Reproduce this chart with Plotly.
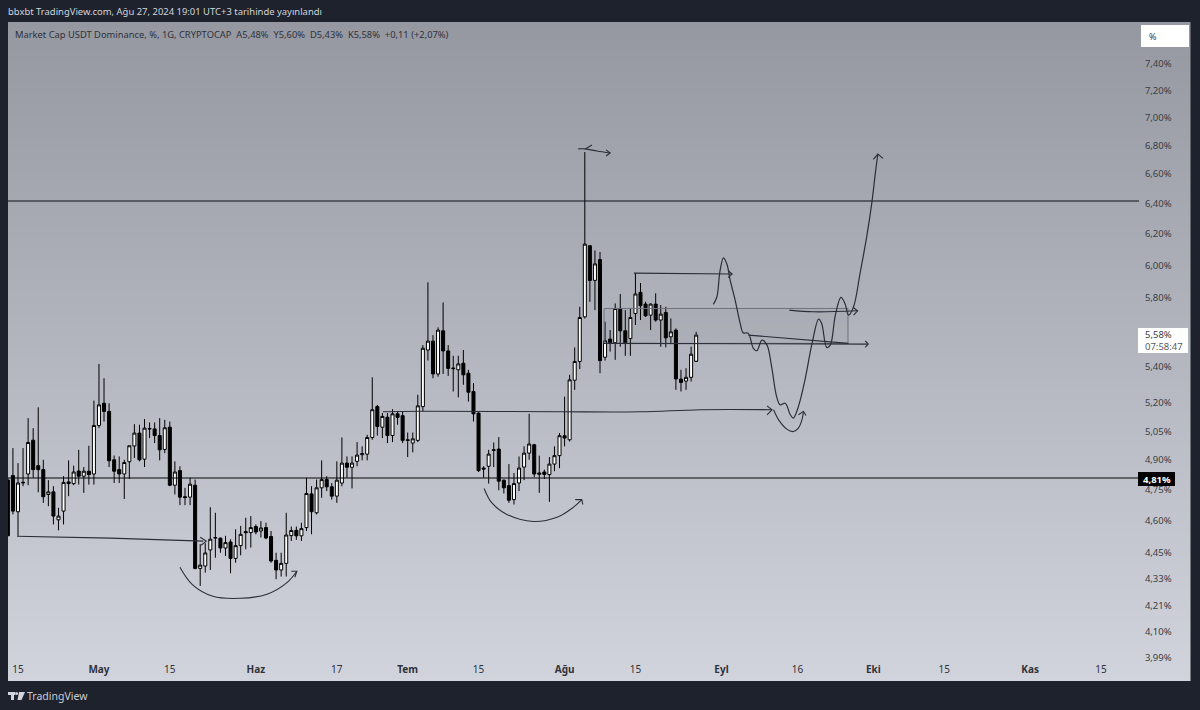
import pandas as pd
import plotly.graph_objs as go

W, H = 1200, 710
FRAME = "#1e222d"
INK = "#2a2e39"
FONT = "Noto Sans"

# daily candles, first one is cut by the left edge of the pane
first_day = "2024-04-13"
opens = [4.800, 4.822, 4.644, 4.785, 4.830, 5.003, 4.872, 4.852, 4.728, 4.741,
         4.605, 4.647, 4.790, 4.782, 4.845, 4.819, 4.844, 4.830, 5.080, 5.199,
         5.155, 4.902, 4.852, 4.830, 4.892, 4.973, 5.040, 4.905, 5.061, 5.062,
         5.027, 4.955, 5.071, 4.774, 4.847, 4.717, 4.715, 4.774, 4.378, 4.389,
         4.463, 4.518, 4.518, 4.472, 4.500, 4.424, 4.483, 4.549, 4.544, 4.573,
         4.552, 4.568, 4.526, 4.415, 4.371, 4.401, 4.530, 4.555, 4.529, 4.568,
         4.731, 4.639, 4.761, 4.802, 4.766, 4.720, 4.785, 4.885, 4.864, 4.894,
         4.928, 4.931, 5.017, 5.181, 5.071, 5.124, 5.027, 5.142, 5.132, 5.005,
         4.988, 5.002, 5.181, 5.495, 5.546, 5.360, 5.606, 5.490, 5.389, 5.383,
         5.420, 5.364, 5.263, 5.146, 4.860, 4.869, 4.950, 4.957, 4.799, 4.772,
         4.703, 4.785, 4.865, 4.936, 4.979, 4.828, 4.840, 4.827, 4.880, 4.923,
         5.026, 5.005, 5.325, 5.430, 5.688, 6.125, 5.908, 6.037, 5.454, 5.558,
         5.537, 5.738, 5.606, 5.561, 5.708, 5.835, 5.764, 5.698, 5.764, 5.669,
         5.714, 5.571, 5.610, 5.331, 5.320, 5.341, 5.430]
highs = [4.811, 4.962, 4.885, 4.962, 5.119, 5.066, 5.177, 4.902, 4.799, 4.769,
         4.663, 4.819, 4.899, 4.872, 4.953, 4.865, 4.974, 5.213, 5.416, 5.336,
         5.199, 4.924, 4.919, 4.902, 4.974, 5.087, 5.084, 5.114, 5.096, 5.096,
         5.119, 5.110, 5.101, 4.894, 4.869, 4.761, 4.811, 4.802, 4.490, 4.494,
         4.666, 4.639, 4.521, 4.529, 4.513, 4.560, 4.576, 4.615, 4.623, 4.583,
         4.599, 4.591, 4.552, 4.450, 4.450, 4.639, 4.573, 4.573, 4.591, 4.811,
         4.769, 4.802, 4.899, 4.819, 4.785, 4.894, 5.017, 4.919, 4.919, 4.993,
         4.971, 5.031, 5.341, 5.190, 5.146, 5.146, 5.167, 5.155, 5.155, 5.043,
         5.043, 5.245, 5.523, 5.896, 5.581, 5.626, 5.774, 5.523, 5.462, 5.462,
         5.495, 5.383, 5.309, 5.150, 4.869, 4.953, 4.991, 5.019, 4.802, 4.880,
         4.835, 4.919, 4.971, 5.142, 4.984, 4.923, 4.852, 4.916, 4.971, 5.040,
         5.235, 5.355, 5.510, 5.748, 6.752, 6.125, 6.095, 6.085, 5.659, 5.610,
         5.768, 5.825, 5.728, 5.738, 5.954, 5.892, 5.778, 5.768, 5.829, 5.758,
         5.748, 5.678, 5.620, 5.383, 5.392, 5.514, 5.600]
lows = [4.529, 4.631, 4.529, 4.769, 4.774, 4.811, 4.739, 4.687, 4.671, 4.583,
        4.555, 4.583, 4.720, 4.774, 4.777, 4.736, 4.777, 4.777, 5.066, 5.101,
        4.865, 4.785, 4.785, 4.706, 4.805, 4.911, 4.894, 4.865, 5.014, 4.988,
        4.899, 4.936, 4.769, 4.728, 4.676, 4.676, 4.676, 4.374, 4.299, 4.359,
        4.371, 4.427, 4.450, 4.435, 4.356, 4.404, 4.438, 4.466, 4.474, 4.536,
        4.521, 4.513, 4.404, 4.329, 4.341, 4.341, 4.505, 4.510, 4.505, 4.552,
        4.536, 4.631, 4.712, 4.745, 4.703, 4.687, 4.769, 4.811, 4.758, 4.869,
        4.899, 4.899, 5.005, 5.027, 5.014, 4.988, 4.993, 5.084, 4.988, 4.916,
        4.940, 4.993, 5.155, 5.435, 5.336, 5.345, 5.360, 5.349, 5.263, 5.231,
        5.300, 5.208, 5.101, 4.840, 4.811, 4.782, 4.865, 4.749, 4.733, 4.687,
        4.679, 4.745, 4.799, 4.902, 4.814, 4.736, 4.805, 4.692, 4.844, 4.859,
        4.971, 4.996, 5.272, 5.387, 5.678, 5.778, 5.728, 5.364, 5.435, 5.486,
        5.439, 5.514, 5.462, 5.462, 5.640, 5.669, 5.688, 5.610, 5.659, 5.514,
        5.510, 5.529, 5.272, 5.263, 5.272, 5.318, 5.435]
closes = [4.529, 4.647, 4.785, 4.788, 4.991, 4.852, 4.852, 4.717, 4.741, 4.623,
          4.623, 4.788, 4.782, 4.840, 4.819, 4.844, 4.827, 5.080, 5.190, 5.155,
          4.897, 4.844, 4.830, 4.888, 4.974, 5.040, 4.902, 5.066, 5.064, 5.027,
          4.953, 5.068, 4.774, 4.840, 4.715, 4.713, 4.779, 4.378, 4.393, 4.449,
          4.513, 4.521, 4.472, 4.497, 4.424, 4.483, 4.536, 4.544, 4.568, 4.547,
          4.566, 4.519, 4.412, 4.371, 4.401, 4.533, 4.554, 4.529, 4.563, 4.733,
          4.644, 4.761, 4.802, 4.766, 4.720, 4.799, 4.885, 4.864, 4.885, 4.926,
          4.933, 5.017, 5.164, 5.075, 5.128, 5.027, 5.142, 5.123, 5.002, 5.002,
          5.010, 5.185, 5.505, 5.546, 5.360, 5.610, 5.490, 5.391, 5.392, 5.416,
          5.355, 5.259, 5.142, 4.847, 4.855, 4.931, 4.953, 4.794, 4.761, 4.700,
          4.782, 4.860, 4.936, 4.983, 4.830, 4.835, 4.828, 4.880, 4.923, 5.026,
          5.014, 5.327, 5.430, 5.684, 6.135, 5.908, 6.010, 5.435, 5.548, 5.537,
          5.738, 5.606, 5.537, 5.684, 5.825, 5.754, 5.694, 5.764, 5.669, 5.704,
          5.565, 5.600, 5.332, 5.313, 5.341, 5.471, 5.581]

price_ticks = [7.40, 7.20, 7.00, 6.80, 6.60, 6.40, 6.20, 6.00, 5.80, 5.60, 5.40,
               5.20, 5.05, 4.90, 4.75, 4.60, 4.45, 4.33, 4.21, 4.10, 3.99]
date_ticks = ["2024-04-15", "2024-05-01", "2024-05-15", "2024-06-01", "2024-06-17",
              "2024-07-01", "2024-07-15", "2024-08-01", "2024-08-15", "2024-09-01",
              "2024-09-16", "2024-10-01", "2024-10-15", "2024-11-01", "2024-11-15"]
date_labels = ["15", "<b>May</b>", "15", "<b>Haz</b>", "17", "<b>Tem</b>", "15", "<b>Ağu</b>",
               "15", "<b>Eyl</b>", "16", "<b>Eki</b>", "15", "<b>Kas</b>", "15"]

level_high = 6.417
level_low = 4.81

# hand drawn marks on the chart: days after Apr 15 and price
zone_days = [115.8, 164.0, 164.0, 115.8, 115.8]
zone_prices = [5.738, 5.738, 5.533, 5.533, 5.738]
drawn_lines = [
    ([-0.2, 6.3, 18.2, 36.6], [4.527, 4.525, 4.518, 4.504], "linear"),
    ([36.0, 37.2, 36.2], [4.522, 4.504, 4.485], "linear"),
    ([32.0, 34.4, 38.5, 43.9, 49.2, 53.2, 55.1], [4.383, 4.306, 4.253, 4.244, 4.262, 4.315, 4.365], "spline"),
    ([54.0, 55.1, 54.7], [4.365, 4.365, 4.338], "linear"),
    ([72.1, 79.4, 107.1, 122.9, 134.8, 149.0], [5.153, 5.156, 5.153, 5.153, 5.164, 5.164], "spline"),
    ([148.0, 149.0, 148.0], [5.185, 5.164, 5.137], "linear"),
    ([92.1, 93.6, 96.6, 101.8, 106.5, 109.7, 111.4], [4.758, 4.688, 4.631, 4.597, 4.617, 4.665, 4.703], "spline"),
    ([110.1, 111.4, 111.6], [4.703, 4.703, 4.679], "linear"),
    ([110.7, 112.1, 114.4, 117.0], [6.774, 6.774, 6.759, 6.745], "spline"),
    ([116.2, 117.0, 116.2], [6.767, 6.745, 6.724], "linear"),
    ([112.1, 113.4], [6.774, 6.802], "linear"),
    ([121.7, 141.1], [5.953, 5.947], "linear"),
    ([140.3, 141.1, 140.3], [5.969, 5.947, 5.925], "linear"),
    ([115.8, 168.0], [5.533, 5.529], "linear"),
    ([167.4, 168.0, 167.4], [5.548, 5.529, 5.510], "linear"),
    ([144.3, 156.5, 164.1], [5.581, 5.552, 5.533], "linear"),
    ([152.4, 157.2, 165.9], [5.728, 5.718, 5.724], "spline"),
    ([165.1, 165.9, 165.1], [5.742, 5.724, 5.698], "linear"),
    ([149.3, 150.3, 151.9, 153.2, 154.2, 154.9, 155.2], [5.164, 5.110, 5.061, 5.048, 5.066, 5.110, 5.155], "spline"),
    ([154.2, 155.2, 155.7], [5.137, 5.155, 5.133], "linear"),
    ([169.0, 169.9, 170.9], [6.701, 6.738, 6.708], "linear"),
]
path_days = [137.4, 138.1, 138.7, 139.4, 140.1, 140.7, 141.7, 142.7, 143.3, 144.3, 145.3, 146.0,
             147.0, 148.0, 148.9, 149.9, 150.6, 151.6, 152.6, 153.2, 154.2, 155.5, 156.9, 158.2,
             158.8, 159.8, 160.5, 161.5, 162.6, 163.4, 164.1, 165.1, 166.4, 167.7, 168.7, 169.4, 169.9]
path_prices = [5.762, 5.808, 5.964, 6.048, 6.006, 5.912, 5.788, 5.649, 5.595, 5.591, 5.505, 5.491,
               5.552, 5.523, 5.402, 5.235, 5.190, 5.199, 5.137, 5.119, 5.181, 5.327, 5.533, 5.675,
               5.649, 5.510, 5.523, 5.698, 5.804, 5.768, 5.698, 5.748, 5.954, 6.183, 6.402, 6.604, 6.738]


def to_dates(days):
    return pd.Timestamp("2024-04-15") + pd.to_timedelta(days, unit="D")


def px(x):
    return x / W


def py(y):
    return 1 - y / H


def add_line(fig, x, y, color=INK, width=1.1, shape="linear"):
    fig.add_trace(go.Scatter(x=x, y=y, mode="lines", xaxis="x2", yaxis="y2", hoverinfo="skip",
                             line=dict(color=color, width=width, shape=shape)))


fig = go.Figure()

# pane gradient sits on its own axes, below the candles
fig.add_trace(go.Heatmap(x=[0, 1], y=[0, 1], z=[[0, 0], [1, 1]], zsmooth="best", showscale=False, hoverinfo="skip",
                         colorscale=[[0, "#d1d4dc"], [1, "#9598a1"]], xaxis="x", yaxis="y"))

x_start = pd.Timestamp("2024-04-13 00:36")
x_end = pd.Timestamp("2024-11-22 12:00")

fig.add_trace(go.Scatter(x=to_dates(zone_days), y=zone_prices, mode="lines", fill="toself", xaxis="x2", yaxis="y2",
                         hoverinfo="skip", fillcolor="rgba(70,72,82,0.05)", line=dict(color="#6f727c", width=1)))

add_line(fig, [x_start, x_end], [level_high, level_high], color="#0c0e12", width=1.1)
add_line(fig, [x_start, x_end], [level_low, level_low], color="#050608", width=1.1)

fig.add_trace(go.Candlestick(x=pd.date_range(first_day, periods=len(opens)), open=opens, high=highs, low=lows,
                             close=closes, xaxis="x2", yaxis="y2", hoverinfo="skip",
                             increasing=dict(fillcolor="#ffffff", line=dict(color="#000000", width=1)),
                             decreasing=dict(fillcolor="#000000", line=dict(color="#000000", width=1))))

for days, prices, shape in drawn_lines:
    add_line(fig, to_dates(days), prices, shape=shape)
add_line(fig, to_dates(path_days), path_prices, shape="spline", width=1.2)


def note(text, x, y, color="#ffffff", size=10, anchor="left", **kw):
    fig.add_annotation(text=text, x=px(x), y=py(y), xref="paper", yref="paper", showarrow=False, xanchor=anchor,
                       yanchor="middle", font=dict(family=FONT, size=size, color=color), **kw)


note("bbxbt TradingView.com, Ağu 27, 2024 19:01 UTC+3 tarihinde yayınlandı", 6, 12, color="#d1d4dc", size=9.45)
note("Market Cap USDT Dominance, %, 1G, CRYPTOCAP  A5,48%  Y5,60%  D5,43%  K5,58%  +0,11 (+2,07%)", 13, 34,
     color="#2f323a", size=9.35)
note("%", 1147, 36, color="#3a3d45", size=9)
note("5,58%", 1143, 334, color="#3a3d45", size=9.5)
note("07:58:47", 1143, 346, color="#555862", size=9.5)
note("<b>4,81%</b>", 1156.5, 479, size=9.5, anchor="center")
note("TradingView", 25, 696, color="#c9ccd4", size=10.5)

fig.update_layout(
    width=W, height=H, margin=dict(l=0, r=0, t=0, b=0), autosize=False,
    paper_bgcolor=FRAME, plot_bgcolor="rgba(0,0,0,0)", showlegend=False, boxgap=0.15,
    xaxis=dict(domain=[px(8), px(1190.5)], range=[0, 1], visible=False, fixedrange=True),
    yaxis=dict(domain=[py(681), py(22)], range=[0, 1], visible=False, fixedrange=True),
    xaxis2=dict(domain=[px(8), px(1139)], anchor="y2", range=[x_start, x_end], showgrid=False, zeroline=False,
                rangeslider=dict(visible=False), tickmode="array", tickvals=date_ticks, ticktext=date_labels,
                ticklabelposition="inside", ticklabelstandoff=3, ticks="", showline=False,
                tickfont=dict(family=FONT, size=10, color="#2f323a")),
    yaxis2=dict(domain=[py(681), py(22)], anchor="x2", side="right", type="log",
                range=[0.5904, 0.8882], showgrid=False, zeroline=False, tickmode="array",
                tickvals=price_ticks, ticktext=[f"{p:.2f}%".replace(".", ",") for p in price_ticks],
                ticks="outside", ticklen=3, tickcolor="rgba(0,0,0,0)", showline=False,
                tickfont=dict(family=FONT, size=9.5, color="#3a3d45")),
    shapes=[
        dict(type="rect", xref="paper", yref="paper", x0=px(1141), x1=px(1189), y0=py(47), y1=py(25),
             fillcolor="#ffffff", line=dict(width=0)),
        dict(type="rect", xref="paper", yref="paper", x0=px(1138), x1=px(1188), y0=py(353), y1=py(328),
             fillcolor="#ffffff", line=dict(width=0), layer="above"),
        dict(type="rect", xref="paper", yref="paper", x0=px(1138), x1=px(1175), y0=py(486), y1=py(472),
             fillcolor="#000000", line=dict(width=0), layer="above"),
        # logo
        dict(type="rect", xref="paper", yref="paper", x0=px(8), x1=px(15.5), y0=py(695), y1=py(692),
             fillcolor="#d1d4dc", line=dict(width=0)),
        dict(type="rect", xref="paper", yref="paper", x0=px(11), x1=px(14), y0=py(700), y1=py(692),
             fillcolor="#d1d4dc", line=dict(width=0)),
        dict(type="path", xref="paper", yref="paper", fillcolor="#d1d4dc", line=dict(width=0),
             path=f"M {px(19)},{py(692)} L {px(25)},{py(692)} L {px(21.5)},{py(700)} L {px(17.5)},{py(700)} Z"),
        dict(type="circle", xref="paper", yref="paper", x0=px(15.5), x1=px(18), y0=py(695), y1=py(692),
             fillcolor="#d1d4dc", line=dict(width=0)),
    ],
)

fig.write_html("out.html", config=dict(displayModeBar=False),
               post_script="document.body.style.margin='0';document.body.style.overflow='hidden';")
